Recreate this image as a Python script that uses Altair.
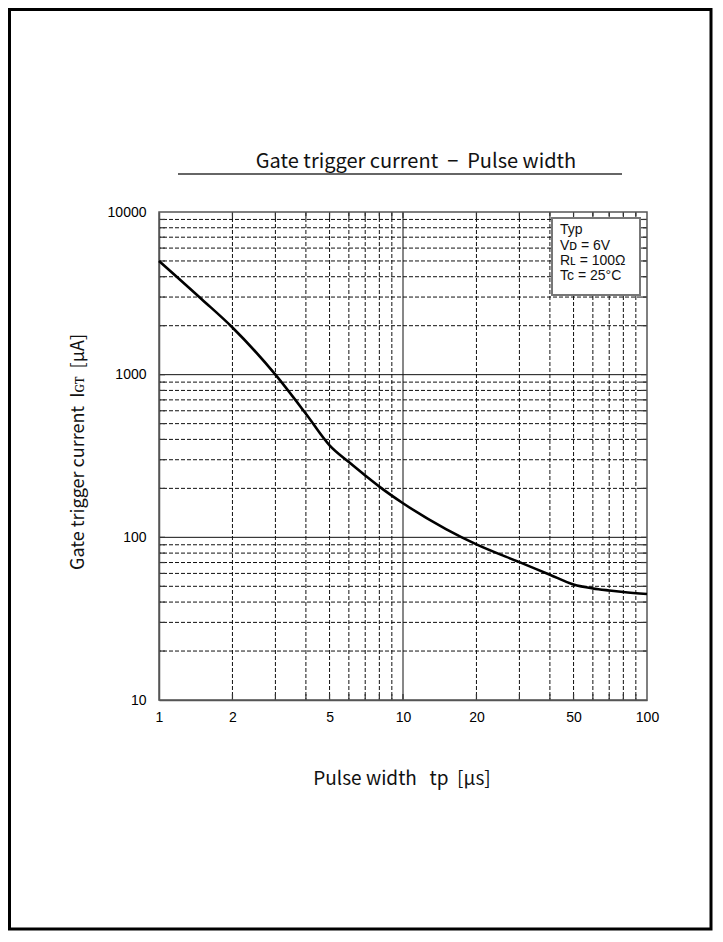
import altair as alt
import pandas as pd

# Curve: pulse width (us) vs gate trigger current (uA)
tp = [1, 1.5, 2, 3, 4, 5, 6, 7, 8, 10, 15, 20, 30, 40, 50, 60, 70, 80, 100]
igt = [5000, 2900, 1950, 1000, 575, 368, 290, 240, 205, 162, 112.4, 90.5, 70.4, 58.9, 51.3, 48.5, 47.1, 46.1, 44.8]

x_grid = [2, 3, 4, 5, 6, 7, 8, 9, 10, 20, 30, 40, 50, 60, 70, 80, 90]
y_grid = [20, 30, 40, 50, 60, 70, 80, 90, 100, 200, 300, 400, 500, 600, 700, 800, 900,
          1000, 2000, 3000, 4000, 5000, 6000, 7000, 8000, 9000]
x_labels = [1, 2, 5, 10, 20, 50, 100]
y_labels = [10, 100, 1000, 10000]
legend_lines = ["Typ", "V\u1d05 = 6V", "R\u029f = 100\u03a9", "Tc = 25\u00b0C"]
title_text = "Gate trigger current\u00a0\u00a0\u2212\u00a0\u00a0Pulse width"
x_title_text = "Pulse width\u00a0\u00a0 tp\u00a0\u00a0[\u03bcs]"
y_title_text = "Gate trigger current\u00a0\u00a0I\u0262\u1d1b\u00a0\u00a0[\u03bcA]"

W, H = 488, 488
xs = alt.Scale(type="log", domain=[1, 100], nice=False)
ys = alt.Scale(type="log", domain=[10, 10000], nice=False)

curve_df = pd.DataFrame({"tp": tp, "igt": igt})
xg = pd.DataFrame({"v": x_grid, "major": [v in (10, 100) for v in x_grid]})
yg = pd.DataFrame({"v": y_grid, "major": [v in (100, 1000, 10000) for v in y_grid]})
xt = pd.DataFrame({"v": x_grid})
yt = pd.DataFrame({"v": y_grid})
one = pd.DataFrame({"a": [0]})

base_axis_x = alt.Axis(values=x_labels, format="d", ticks=False, grid=False,
                       labelFont="Liberation Sans", labelFontSize=14, labelColor="#000",
                       labelPadding=10, labelFlush=False, labelOverlap=False,
                       domainColor="#555", domainWidth=1.5, title=None)
base_axis_y = alt.Axis(values=y_labels, format="d", ticks=False, grid=False,
                       labelFont="Liberation Sans", labelFontSize=14, labelColor="#000",
                       labelPadding=13, labelFlush=False, labelOverlap=False,
                       domainColor="#555", domainWidth=1.5, title=None)

axes_layer = alt.Chart(curve_df).mark_point(opacity=0).encode(
    x=alt.X("tp:Q", scale=xs, axis=base_axis_x),
    y=alt.Y("igt:Q", scale=ys, axis=base_axis_y),
)

vgrid = alt.Chart(xg).mark_rule(color="#111", strokeWidth=1).encode(
    x=alt.X("v:Q", scale=xs),
    strokeDash=alt.condition("datum.major", alt.value([1, 0]), alt.value([4, 2])),
)
hgrid = alt.Chart(yg).mark_rule(color="#111", strokeWidth=1).encode(
    y=alt.Y("v:Q", scale=ys),
    strokeDash=alt.condition("datum.major", alt.value([1, 0]), alt.value([4, 2])),
)

tick_style = dict(color="#333", strokeWidth=1.2)
xt_bot = alt.Chart(xt).mark_rule(**tick_style).encode(
    x=alt.X("v:Q", scale=xs), y=alt.value(H), y2=alt.value(H - 6))
xt_top = alt.Chart(xt).mark_rule(**tick_style).encode(
    x=alt.X("v:Q", scale=xs), y=alt.value(0), y2=alt.value(6))
yt_left = alt.Chart(yt).mark_rule(**tick_style).encode(
    y=alt.Y("v:Q", scale=ys), x=alt.value(0), x2=alt.value(6))
yt_right = alt.Chart(yt).mark_rule(**tick_style).encode(
    y=alt.Y("v:Q", scale=ys), x=alt.value(W), x2=alt.value(W - 6))

border = alt.Chart(one).mark_rect(fill=None, stroke="#555", strokeWidth=1.5).encode(
    x=alt.value(0), x2=alt.value(W), y=alt.value(0), y2=alt.value(H))

curve = alt.Chart(curve_df).mark_line(color="#000", strokeWidth=2.6, interpolate="monotone").encode(
    x=alt.X("tp:Q", scale=xs), y=alt.Y("igt:Q", scale=ys))

legend_box = alt.Chart(one).mark_rect(fill="white", stroke="#777", strokeWidth=2).encode(
    x=alt.value(393), x2=alt.value(481), y=alt.value(6), y2=alt.value(83))
legend_layers = []
for txt, yy in zip(legend_lines, [18, 34, 49, 64]):
    legend_layers.append(
        alt.Chart(one).mark_text(align="left", baseline="middle", font="Liberation Sans",
                                 fontSize=14, color="#111", text=txt).encode(
            x=alt.value(401), y=alt.value(yy)))

title = alt.Chart(one).mark_text(font="Noto Sans CJK JP", fontSize=20, color="#111",
                                 align="center", baseline="middle", text=title_text).encode(
    x=alt.value(416 - 159), y=alt.value(162 - 212))
underline = alt.Chart(one).mark_rule(color="#333", strokeWidth=1.5).encode(
    x=alt.value(178 - 159), x2=alt.value(622 - 159), y=alt.value(174 - 212))

xtitle = alt.Chart(one).mark_text(font="Noto Sans CJK JP", fontSize=19, color="#111",
                                  align="center", baseline="middle", text=x_title_text).encode(
    x=alt.value(402 - 159), y=alt.value(779 - 212))
ytitle = alt.Chart(one).mark_text(font="Noto Sans CJK JP", fontSize=18, color="#111",
                                  align="center", baseline="middle", angle=270, text=y_title_text).encode(
    x=alt.value(79 - 159), y=alt.value(452 - 212))

page_frame = alt.Chart(one).mark_rect(fill=None, stroke="#000", strokeWidth=3).encode(
    x=alt.value(9.5 - 159), x2=alt.value(711 - 159), y=alt.value(9.5 - 212), y2=alt.value(929 - 212))

chart = alt.layer(
    axes_layer, vgrid, hgrid, xt_bot, xt_top, yt_left, yt_right, border, curve,
    legend_box, *legend_layers, title, underline, xtitle, ytitle, page_frame
).properties(
    width=W, height=H,
    autosize=alt.AutoSizeParams(type="none"),
    padding={"left": 151, "top": 204, "right": 68, "bottom": 232},
    background="white",
).configure_view(stroke=None)

chart.save("out.html", embed_options={"renderer": "svg", "actions": False})
